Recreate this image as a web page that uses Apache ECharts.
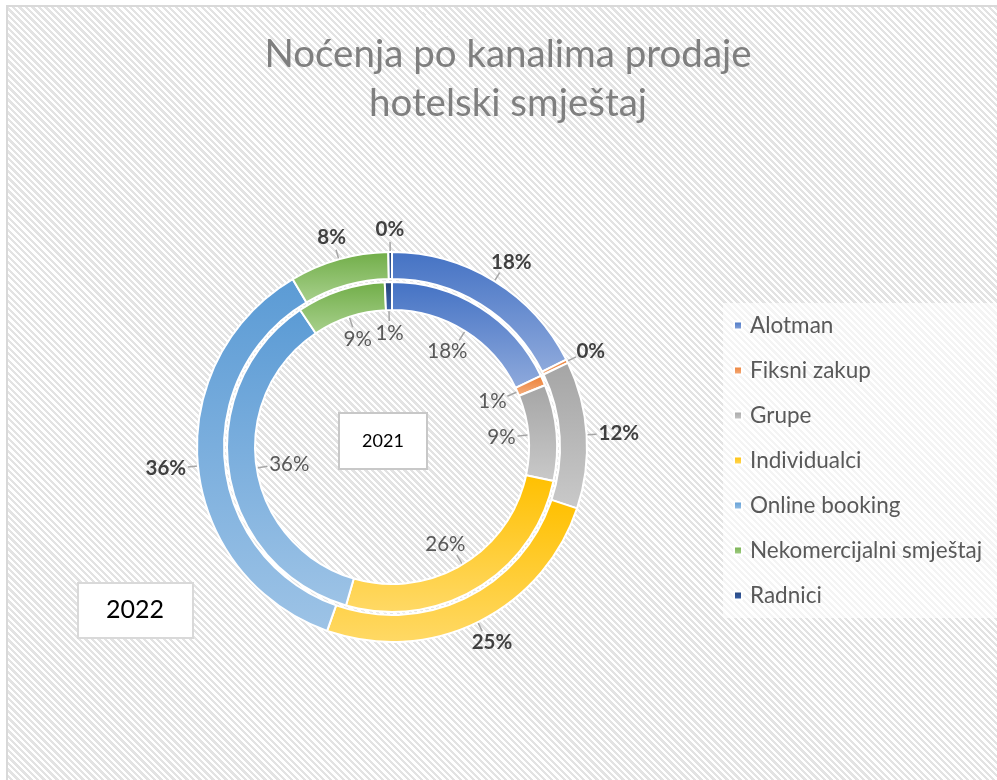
<!DOCTYPE html>
<html>
<head>
<meta charset="utf-8">
<title>Noćenja po kanalima prodaje</title>
<script src="https://cdn.jsdelivr.net/npm/echarts@6/dist/echarts.min.js"></script>
<style>
html,body{margin:0;padding:0;background:#fff}
body{width:997px;height:780px;overflow:hidden;position:relative}
#frame{position:absolute;left:6px;top:5px;width:1000px;height:800px;border-left:2px solid #d9d9d9;border-top:2px solid #d9d9d9;
  background:repeating-linear-gradient(45deg,#fff 0,#fff 2.3px,#e3e3e3 2.3px,#e3e3e3 4.6px)}
#chart{position:absolute;left:0;top:0;width:997px;height:780px}
</style>
</head>
<body>
<div id="frame"></div>
<div id="chart"></div>
<script>
// kategorije i udjeli (%), procijenjeno sa slike
const categories = ['Alotman','Fiksni zakup','Grupe','Individualci','Online booking','Nekomercijalni smještaj','Radnici']
const values2022 = [17.6, 0.3, 12.2, 25.3, 36.1, 8.2, 0.3]
const values2021 = [17.9, 1.0, 9.4, 26.2, 36.1, 8.7, 0.7]

const colorsTop = ['#4472C4','#ED7D31','#A5A5A5','#FFC000','#5B9BD5','#70AD47','#264478']
const colorsBottom = ['#8FAADC','#F4B183','#C9C9C9','#FFD966','#9DC3E6','#A9D18E','#3B64AD']

const CX = 392, CY = 447
const FONT = 'Lato'

function grad(i){
  return new echarts.graphic.LinearGradient(0,0,0,1,[
    {offset:0,color:colorsTop[i]},{offset:1,color:colorsBottom[i]}
  ])
}

function midAngle(vals, i){
  const total = vals.reduce((a,b)=>a+b,0)
  let before = 0
  for(let k=0;k<i;k++) before += vals[k]
  return (before + vals[i]/2)/total*2*Math.PI
}
function polar(a, r){ return [CX + r*Math.sin(a), CY - r*Math.cos(a)] }

function makeData(vals){
  return categories.map((n,i)=>({name:n, value:vals[i], itemStyle:{color:grad(i)}}))
}

// dir = 1 prema van, -1 prema unutra; rEdge = rub natpisa najblizi prstenu
function layoutFor(vals, dir, rEdge, rFrom, rTo){
  return (p)=>{
    const a = midAngle(vals, p.dataIndex)
    const w = p.labelRect.width, h = p.labelRect.height
    const e = polar(a, rEdge)
    const x = e[0] + dir*Math.sin(a)*w/2
    const y = e[1] - dir*Math.cos(a)*h/2
    const s = polar(a, rFrom), t = polar(a, rTo)
    return {x, y, align:'center', verticalAlign:'middle', labelLinePoints:[s,t,t]}
  }
}

const chart = echarts.init(document.getElementById('chart'))
chart.setOption({
  animation:false,
  textStyle:{fontFamily:FONT},
  title:{
    text:'Noćenja po kanalima prodaje\nhotelski smještaj',
    left:508, top:30, padding:0, textAlign:'center',
    textStyle:{fontFamily:FONT, fontSize:38.5, fontWeight:'normal', color:'#7f7f7f', lineHeight:49}
  },
  legend:{
    orient:'vertical', left:723, top:303,
    icon:'rect', itemWidth:8, itemHeight:8, itemGap:22,
    padding:[11,20,11,10],
    backgroundColor:'rgba(255,255,255,0.6)',
    textStyle:{fontFamily:FONT, fontSize:22.5, color:'#595959', lineHeight:23, padding:[0,0,0,3]},
    data:categories
  },
  graphic:[
    {type:'rect', shape:{x:339,y:413,width:88,height:56}, style:{fill:'#fff', stroke:'#c8c8c8', lineWidth:2}},
    {type:'text', x:383, y:441, style:{text:'2021', fontFamily:FONT, fontSize:18, fill:'#000',
      align:'center', verticalAlign:'middle', textAlign:'center', textVerticalAlign:'middle'}},
    {type:'rect', shape:{x:78,y:583,width:115,height:55}, style:{fill:'#fff', stroke:'#d9d9d9', lineWidth:2}},
    {type:'text', x:135, y:610, style:{text:'2022', fontFamily:FONT, fontSize:25, fill:'#000',
      align:'center', verticalAlign:'middle', textAlign:'center', textVerticalAlign:'middle'}}
  ],
  series:[
    {
      name:'2022', type:'pie', center:[CX,CY], radius:[168,195], startAngle:90,
      avoidLabelOverlap:false,
      itemStyle:{borderColor:'#fff', borderWidth:2},
      label:{show:true, position:'outside', fontFamily:FONT, fontSize:20.5, fontWeight:'bold', color:'#404040',
        formatter:(p)=>Math.round(p.percent)+'%'},
      labelLine:{show:true, lineStyle:{color:'#a6a6a6', width:1.5}},
      labelLayout:layoutFor(values2022, 1, 207, 183, 205),
      data:makeData(values2022)
    },
    {
      name:'2021', type:'pie', center:[CX,CY], radius:[137,165], startAngle:90,
      avoidLabelOverlap:false,
      itemStyle:{borderColor:'#fff', borderWidth:2},
      label:{show:true, position:'outside', fontFamily:FONT, fontSize:20.5, color:'#595959',
        formatter:(p)=>Math.round(p.percent)+'%'},
      labelLine:{show:true, lineStyle:{color:'#a6a6a6', width:1.5}},
      labelLayout:layoutFor(values2021, -1, 124, 151, 126),
      data:makeData(values2021)
    }
  ]
})
</script>
</body>
</html>
